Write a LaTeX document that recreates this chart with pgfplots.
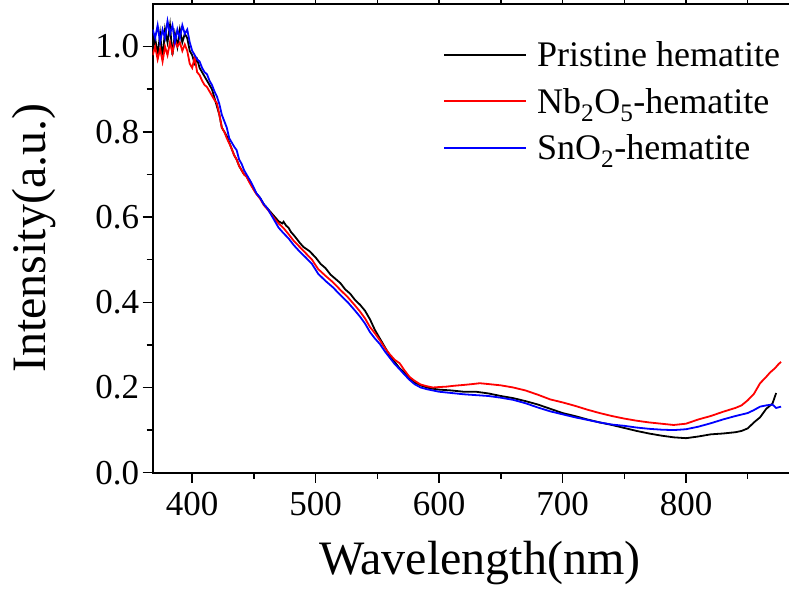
\documentclass[border=0pt]{standalone}
\usepackage{fontspec}
\setmainfont{Liberation Serif}
\usepackage{pgfplots}
\pgfplotsset{compat=1.18}

% Pristine hematite
\pgfplotstableread{
x y
368 0.99
370 1.02
372 0.98
374 1.03
376 0.97
378 1.04
380 1.01
382 1.05
384 0.98
386 1.03
388 1.00
390 1.04
392 1.01
394 1.03
396 1.02
398 0.99
400 0.98
402 0.96
404 0.97
406 0.95
408 0.94
410 0.93
412 0.92
414 0.91
416 0.90
418 0.88
420 0.86
422 0.84
424 0.81
426 0.80
428 0.79
430 0.775
432 0.76
434 0.745
436 0.735
438 0.72
440 0.71
442 0.70
444 0.695
446 0.685
448 0.675
450 0.665
452 0.655
455 0.645
458 0.63
461 0.62
464 0.61
467 0.60
470 0.59
473 0.585
474 0.589
476 0.58
478 0.575
480 0.565
483 0.555
487 0.54
490 0.53
495 0.52
500 0.505
504 0.49
508 0.48
512 0.465
516 0.455
520 0.445
524 0.43
528 0.42
532 0.405
536 0.394
540 0.38
544 0.36
548 0.335
552 0.315
556 0.295
560 0.275
564 0.26
568 0.245
572 0.235
576 0.222
580 0.212
585 0.205
590 0.20
595 0.197
600 0.195
610 0.193
620 0.19
630 0.19
640 0.186
650 0.18
660 0.175
670 0.168
680 0.16
690 0.15
700 0.14
710 0.133
720 0.125
730 0.118
740 0.112
750 0.105
760 0.098
770 0.092
780 0.087
790 0.083
800 0.081
810 0.085
820 0.09
830 0.092
840 0.095
845 0.098
850 0.104
855 0.118
860 0.13
865 0.15
870 0.162
873 0.187
}\pristine

% Nb2O5-hematite
\pgfplotstableread{
x y
368 0.98
370 1.00
372 0.97
374 0.995
376 0.965
378 1.00
380 0.98
382 1.01
384 0.985
386 1.015
388 1.00
390 1.01
392 0.99
394 1.005
396 0.99
398 0.96
400 0.95
402 0.975
404 0.94
406 0.933
408 0.92
410 0.91
412 0.905
414 0.895
416 0.885
418 0.875
420 0.867
422 0.84
424 0.81
426 0.80
428 0.785
430 0.773
432 0.76
434 0.745
436 0.735
438 0.72
440 0.71
442 0.70
444 0.695
446 0.683
448 0.673
450 0.663
452 0.654
455 0.643
458 0.628
461 0.618
464 0.607
467 0.595
470 0.585
474 0.574
478 0.56
482 0.545
487 0.53
492 0.515
497 0.50
502 0.478
508 0.462
514 0.447
520 0.429
526 0.412
532 0.392
536 0.378
540 0.362
544 0.342
548 0.327
552 0.311
556 0.293
560 0.278
564 0.265
568 0.257
572 0.24
576 0.225
580 0.216
585 0.207
590 0.203
595 0.20
600 0.201
606 0.202
612 0.204
620 0.206
627 0.208
633 0.21
640 0.208
650 0.205
660 0.20
670 0.193
680 0.183
690 0.172
700 0.165
710 0.157
720 0.148
730 0.140
740 0.133
750 0.127
760 0.122
770 0.118
780 0.115
790 0.112
800 0.115
810 0.125
820 0.133
830 0.143
840 0.152
845 0.158
850 0.17
855 0.185
860 0.21
865 0.225
868 0.235
872 0.245
875 0.255
877 0.26
}\niobia

% SnO2-hematite
\pgfplotstableread{
x y
368 1.04
370 1.02
372 1.05
374 1.01
376 1.04
378 1.02
380 1.06
382 1.03
384 1.05
386 1.01
388 1.04
390 1.02
392 1.05
394 1.03
396 1.04
398 1.01
400 0.99
402 0.98
404 0.97
406 0.965
408 0.95
410 0.94
412 0.935
414 0.92
416 0.91
418 0.895
420 0.883
422 0.865
424 0.84
426 0.825
428 0.81
430 0.785
432 0.775
434 0.765
436 0.757
438 0.735
440 0.725
442 0.71
444 0.70
446 0.69
448 0.68
450 0.668
452 0.656
455 0.645
458 0.63
461 0.62
464 0.605
467 0.59
470 0.575
474 0.562
478 0.55
482 0.535
487 0.519
492 0.505
497 0.49
502 0.467
508 0.45
514 0.435
520 0.417
526 0.40
532 0.38
536 0.366
540 0.35
544 0.33
548 0.315
552 0.302
556 0.285
560 0.27
564 0.255
568 0.243
572 0.23
576 0.218
580 0.208
585 0.20
590 0.196
595 0.193
600 0.19
610 0.187
620 0.184
630 0.182
640 0.18
650 0.176
660 0.171
670 0.163
680 0.153
690 0.144
700 0.137
710 0.13
720 0.124
730 0.118
740 0.113
750 0.11
760 0.106
770 0.103
780 0.101
790 0.100
800 0.102
810 0.108
820 0.116
830 0.125
840 0.133
850 0.14
855 0.147
860 0.155
865 0.158
870 0.16
873 0.152
877 0.155
}\tin

\begin{document}
\begin{tikzpicture}
\useasboundingbox (-152.7pt,-123.3pt) rectangle (636.3pt,472.7pt);
\begin{axis}[
    at={(0,0)}, anchor=south west,
    scale only axis,
    width=654.3pt, height=468.7pt,
    xmin=368, xmax=898,
    ymin=0, ymax=1.1,
    xtick={400,500,600,700,800},
    minor xtick={450,550,650,750,850},
    ytick={0,0.2,0.4,0.6,0.8,1.0},
    minor ytick={0.1,0.3,0.5,0.7,0.9},
    yticklabel style={/pgf/number format/.cd, fixed, fixed zerofill, precision=1},
    xticklabel style={yshift=-6pt},
    /pgf/number format/assume math mode=true,
    tick align=outside,
    major tick length=10pt, minor tick length=6pt,
    axis line style={line width=1.8pt},
    every tick/.style={line width=1.5pt, black},
    tick label style={font=\fontsize{35}{40}\selectfont},
    xlabel={Wavelength(nm)},
    ylabel={Intensity(a.u.)},
    label style={font=\fontsize{48}{52}\selectfont},
    x label style={at={(axis description cs:0.5,-0.2176)}, anchor=base},
    y label style={at={(axis description cs:-0.1646,0.5)}, anchor=base},
    legend style={at={(axis description cs:0.4437,0.924)}, anchor=north west,
        draw=none, fill=none, inner sep=0pt,
        font=\fontsize{36}{40}\selectfont, cells={anchor=west},
        row sep=16pt, column sep=8pt},
    legend image code/.code={\draw[#1, line width=2pt] (0pt,0.5pt) -- (82pt,0.5pt);},
    every axis plot/.append style={line width=1.8pt},
]
\addplot[black] table {\pristine};
\addlegendentry{Pristine hematite}
\addplot[red] table {\niobia};
\addlegendentry{Nb\textsubscript{2}O\textsubscript{5}-hematite}
\addplot[blue] table {\tin};
\addlegendentry{SnO\textsubscript{2}-hematite}
\end{axis}
\end{tikzpicture}
\end{document}
